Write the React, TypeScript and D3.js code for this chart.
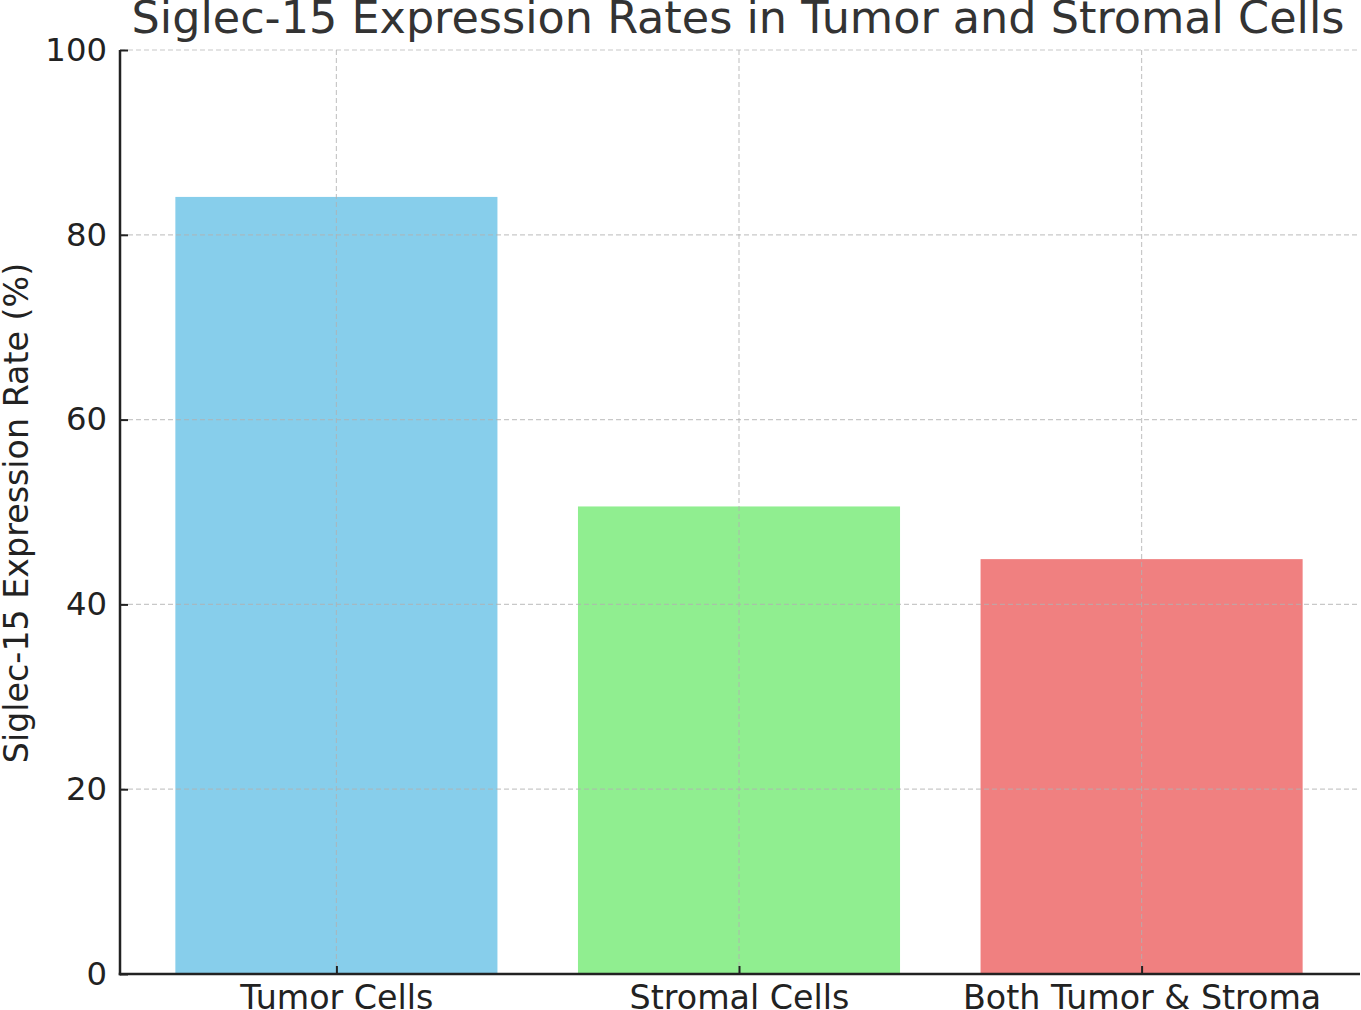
import { useEffect, useRef } from "react";
import * as d3 from "d3";

const categories = ["Tumor Cells", "Stromal Cells", "Both Tumor & Stroma"];
const rates = [84.1, 50.6, 44.9];
const barColors = ["#87CEEB", "#90EE90", "#F08080"];
const yTicks = [0, 20, 40, 60, 80, 100];

const W = 1361, H = 1010;
const FONT = "DejaVu Sans, sans-serif";

export default function App() {
  const svgRef = useRef<SVGSVGElement | null>(null);

  useEffect(() => {
    if (!svgRef.current) return;
    const margin = { top: 50, right: 1, bottom: 36, left: 120 };
    const innerW = W - margin.left - margin.right;
    const innerH = H - margin.top - margin.bottom;

    const svg = d3.select(svgRef.current);
    svg.selectAll("*").remove();

    const g = svg.append("g").attr("transform", `translate(${margin.left},${margin.top})`);

    // matplotlib-style: bars at 0..n-1 with width 0.8, 5% margins
    const idx = categories.map((_, i) => i);
    const pad = 0.4 + 0.05 * (categories.length - 1 + 0.8);
    const x = d3.scaleLinear().domain([-pad, categories.length - 1 + pad]).range([-1, 1239]);
    const y = d3.scaleLinear().domain([0, 100]).range([innerH, 0]);

    const bw = x(0.8) - x(0);

    g.selectAll("rect.bar").data(idx).enter().append("rect")
      .attr("class", "bar")
      .attr("x", (i) => x(i) - bw / 2)
      .attr("width", bw)
      .attr("y", (i) => y(rates[i]))
      .attr("height", (i) => innerH - y(rates[i]))
      .attr("fill", (i) => barColors[i]);

    // grid on top of bars
    const grid = g.append("g").attr("stroke", "#b0b0b0").attr("stroke-opacity", 0.7)
      .attr("stroke-width", 1.2).attr("stroke-dasharray", "5,3");
    yTicks.forEach((t) => {
      grid.append("line").attr("x1", 0).attr("x2", innerW).attr("y1", y(t)).attr("y2", y(t));
    });
    idx.forEach((i) => {
      grid.append("line").attr("x1", x(i)).attr("x2", x(i)).attr("y1", 0).attr("y2", innerH);
    });

    // y axis
    const yAxis = g.append("g").call(
      d3.axisLeft(y).tickValues(yTicks).tickSize(-8).tickPadding(13).tickFormat((d) => String(d))
    );
    yAxis.select(".domain").remove();
    yAxis.selectAll("line").attr("stroke", "#222").attr("stroke-width", 2);
    yAxis.selectAll("text").attr("font-size", 32.3).attr("font-family", FONT).attr("fill", "#222");

    // x axis
    const xAxis = g.append("g").attr("transform", `translate(0,${innerH})`).call(
      d3.axisBottom(x).tickValues(idx).tickSize(-8).tickFormat((d) => categories[d as number])
    );
    xAxis.select(".domain").remove();
    xAxis.selectAll("line").attr("stroke", "#222").attr("stroke-width", 2);
    xAxis.selectAll("text").attr("font-size", 33.3).attr("font-family", FONT).attr("fill", "#222")
      .attr("y", 11).attr("dy", "0.71em");

    // spines
    g.append("line").attr("x1", 0).attr("x2", 0).attr("y1", 0).attr("y2", innerH + 1.25)
      .attr("stroke", "#222").attr("stroke-width", 2.5);
    g.append("line").attr("x1", -1.25).attr("x2", innerW).attr("y1", innerH).attr("y2", innerH)
      .attr("stroke", "#222").attr("stroke-width", 2.5);

    // title
    svg.append("text")
      .attr("x", 738).attr("y", 33)
      .attr("text-anchor", "middle").attr("font-size", 44.5).attr("font-family", FONT).attr("fill", "#333")
      .text("Siglec-15 Expression Rates in Tumor and Stromal Cells");

    // y label
    svg.append("text")
      .attr("transform", `translate(28,${margin.top + innerH / 2 + 1}) rotate(-90)`)
      .attr("text-anchor", "middle").attr("font-size", 33.3).attr("font-family", FONT).attr("fill", "#222")
      .text("Siglec-15 Expression Rate (%)");
  }, []);

  return (
    <svg
      ref={svgRef}
      width={W}
      height={H}
      style={{ position: "absolute", left: 0, top: 0, display: "block", background: "#fff" }}
    />
  );
}
